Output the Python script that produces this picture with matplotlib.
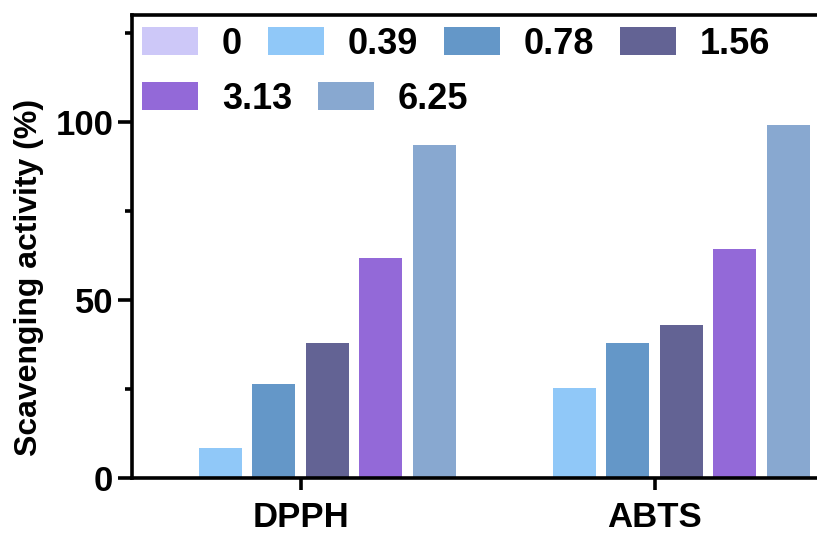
import matplotlib.pyplot as plt
import numpy as np
from matplotlib.ticker import MultipleLocator

plt.rcParams['font.family'] = ['Liberation Sans', 'DejaVu Sans']
plt.rcParams['font.weight'] = 'bold'

# Données
groups = ["DPPH", "ABTS"]
concentrations = ["0", "0.39", "0.78", "1.56", "3.13", "6.25"]
dpph = [0, 8.4, 26.3, 38.0, 61.7, 93.6]
abts = [0, 25.4, 38.0, 43.0, 64.2, 99.2]
colors = ["#cdc8f8", "#90c8f8", "#6497c8", "#636394", "#9369d8", "#88a8d0"]

fig = plt.figure(figsize=(8.17, 5.33), dpi=100)
ax = fig.add_axes([132 / 817, 1 - 478 / 533, 1 - 132 / 817, (478 - 15) / 533])

x = np.arange(len(groups))
step = 0.151
width = 0.121
values = np.array([dpph, abts])

bars = []
for i, c in enumerate(concentrations):
    offset = (i - (len(concentrations) - 1) / 2) * step
    bars.append(ax.bar(x + offset, values[:, i], width, color=colors[i], label=c))

ax.set_xlim(-0.476, 1.459)
ax.set_ylim(0, 130)
ax.set_xticks(x)
ax.set_xticklabels(groups, fontsize=25, fontweight="bold")
ax.set_yticks([0, 50, 100])
ax.yaxis.set_minor_locator(MultipleLocator(25))
ax.tick_params(axis="y", labelsize=25, width=2.6, length=10, pad=3.5)
ax.tick_params(axis="y", which="minor", width=2.6, length=5)
ax.tick_params(axis="x", width=2.6, length=8.5, pad=8)
ax.set_ylabel("Scavenging activity (%)", fontsize=23, fontweight="bold")
ax.yaxis.set_label_coords(-0.128, 0.434)  # un peu plus bas que le centre, comme l'original

ax.spines["right"].set_visible(False)
for s in ["left", "bottom", "top"]:
    ax.spines[s].set_linewidth(2.6)

# Légende sur deux lignes (rangée par rangée, comme l'original)
leg_kw = dict(frameon=False, prop={"weight": "bold", "size": 26},
              handlelength=1.55, handleheight=0.83, handletextpad=0.66,
              columnspacing=0.72, borderpad=0, borderaxespad=0, loc="center left")
leg1 = ax.legend(bars[:4], concentrations[:4], ncol=4,
                 bbox_to_anchor=(0.0146, 0.937), **leg_kw)
ax.add_artist(leg1)
ax.legend(bars[4:], concentrations[4:], ncol=2,
          bbox_to_anchor=(0.0146, 0.818), **leg_kw)

plt.savefig("out.png", dpi=100)
